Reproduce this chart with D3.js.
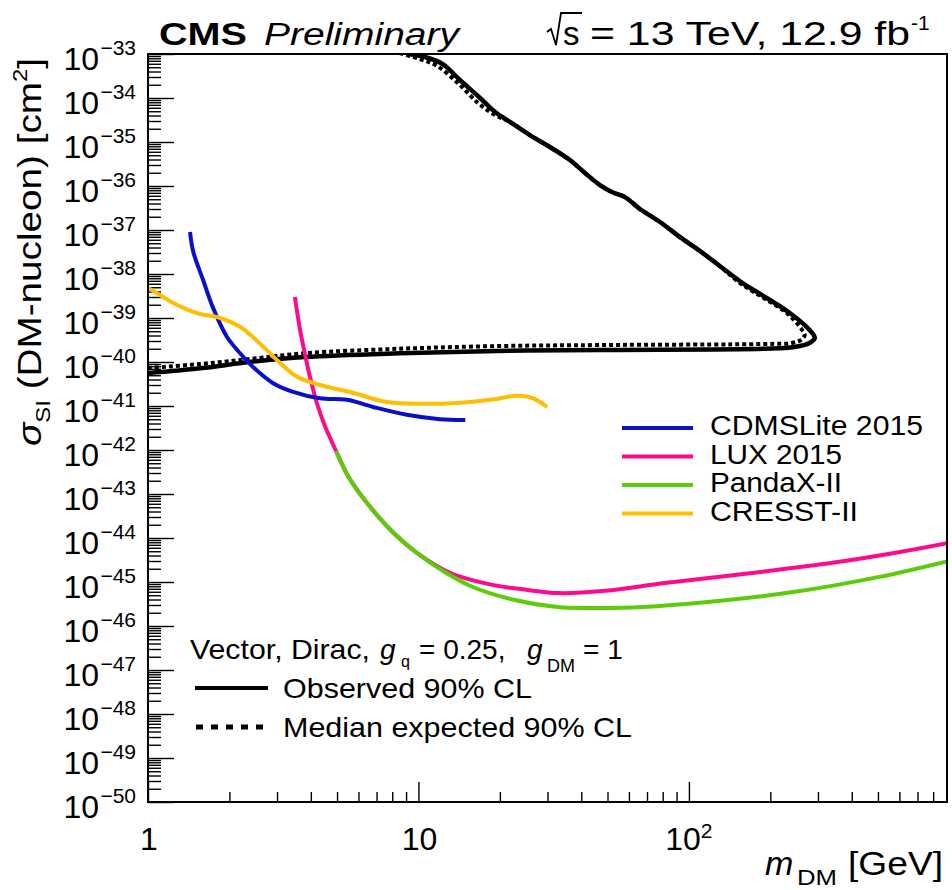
<!DOCTYPE html>
<html>
<head>
<meta charset="utf-8">
<script src="https://cdn.jsdelivr.net/npm/d3@7"></script>
<style>
  body { margin: 0; background: #fff; }
  svg { display: block; }
  text { font-family: "Liberation Sans", Arial, Helvetica, sans-serif; fill: #000; }
</style>
</head>
<body>
<svg id="chart" width="952" height="890"></svg>
<script>
// ---- CMS limit, vector mediator, Dirac DM (closed contour) ----
const observedMass = [1.0, 1.56, 2.38, 3.8, 8.5, 19.5, 46.9, 191, 246, 279, 292, 275, 236, 194, 158, 130, 110, 92.7, 78.2, 65.9, 58.0, 51.9, 46.9, 41.3, 36.3, 30.6, 25.8, 21.8, 19.2, 16.9, 14.2, 12.3, 10.6, 9.3, 8.2];
const observedSigma = [5.6e-41, 7.2e-41, 1.0e-40, 1.3e-40, 1.58e-40, 1.78e-40, 1.88e-40, 2.0e-40, 2.2e-40, 2.7e-40, 3.5e-40, 5.9e-40, 1.3e-39, 2.85e-39, 6.2e-39, 1.52e-38, 3.3e-38, 6.9e-38, 1.52e-37, 3.0e-37, 5.6e-37, 7.3e-37, 1.05e-36, 1.97e-36, 3.9e-36, 7.7e-36, 1.44e-35, 2.85e-35, 4.8e-35, 1.0e-34, 2.6e-34, 5.9e-34, 8.5e-34, 1.0e-33, 1.4e-33];

const expectedMass = [1.0, 1.56, 2.38, 3.8, 8.5, 19.5, 46.9, 191, 240, 260, 268, 262, 230, 189, 154.5, 130, 110, 92.7, 78.2, 65.9, 58.0, 51.9, 46.9, 41.3, 36.3, 30.6, 25.8, 21.8, 19.2, 16.6, 14.2, 11.7, 10.1, 8.5];
const expectedSigma = [7.3e-41, 9.0e-41, 1.17e-40, 1.58e-40, 2.0e-40, 2.3e-40, 2.43e-40, 2.57e-40, 2.7e-40, 3.2e-40, 4.1e-40, 5.4e-40, 1.3e-39, 2.85e-39, 6.2e-39, 1.52e-38, 3.3e-38, 6.9e-38, 1.52e-37, 3.0e-37, 5.6e-37, 7.3e-37, 1.05e-36, 1.97e-36, 3.9e-36, 7.7e-36, 1.44e-35, 2.85e-35, 4.1e-35, 7.7e-35, 2.0e-34, 5.4e-34, 7.7e-34, 1.05e-33];

// ---- Direct-detection limits ----
const cdmsMass = [1.43, 1.47, 1.6, 1.74, 1.96, 2.19, 2.44, 2.9, 3.44, 4.32, 5.44, 6.8, 9.06, 12.0, 14.9];
const cdmsSigma = [9.0e-38, 3.2e-38, 7.2e-39, 1.7e-39, 3.7e-40, 1.58e-40, 7.8e-41, 3.3e-41, 2.1e-41, 1.5e-41, 1.38e-41, 9.5e-42, 6.3e-42, 5.0e-42, 4.8e-42];

const luxMass = [3.49, 3.65, 3.80, 3.97, 4.21, 4.51, 4.96, 5.48, 6.34, 7.91, 9.87, 13.2, 19.0, 25.4, 32.8, 49.0, 81.5, 168, 349, 603, 900];
const luxSigma = [3.0e-39, 5.4e-40, 1.58e-40, 4.6e-41, 1.17e-41, 3.5e-42, 9.5e-43, 2.6e-43, 7.2e-44, 1.5e-44, 4.6e-45, 1.58e-45, 8.5e-46, 6.6e-46, 5.6e-46, 6.3e-46, 9.5e-46, 1.58e-45, 2.8e-45, 4.8e-45, 7.6e-45];

const pandaxMass = [4.96, 5.48, 6.34, 7.91, 9.87, 12.2, 15.8, 22.7, 32.8, 42.4, 67.6, 117, 243, 500, 900];
const pandaxSigma = [9.5e-43, 2.6e-43, 7.2e-44, 1.5e-44, 4.6e-45, 1.86e-45, 7.8e-46, 3.9e-46, 2.7e-46, 2.57e-46, 2.7e-46, 3.5e-46, 5.9e-46, 1.29e-45, 2.95e-45];

const cresstMass = [1.0, 1.11, 1.24, 1.52, 1.85, 2.19, 2.44, 2.75, 3.08, 3.56, 4.33, 5.72, 7.65, 10.4, 13.9, 18.4, 23.1, 26.5, 29.9];
const cresstSigma = [4.8e-39, 3.3e-39, 2.2e-39, 1.29e-39, 1.0e-39, 6.3e-40, 3.7e-40, 1.86e-40, 9.5e-41, 4.6e-41, 3.0e-41, 2.0e-41, 1.23e-41, 1.12e-41, 1.17e-41, 1.38e-41, 1.7e-41, 1.5e-41, 9.5e-42];

// ---- Legend entries ----
const experimentNames = ["CDMSLite 2015", "LUX 2015", "PandaX-II", "CRESST-II"];
const experimentColors = ["#0a0fc8", "#ff0a8c", "#5ccc0a", "#ffbe00"];
const experimentLabelWidths = [213, 132, 132, 148];

// ---- Axis ticks ----
const yTickExponents = [-33, -34, -35, -36, -37, -38, -39, -40, -41, -42, -43, -44, -45, -46, -47, -48, -49, -50];
const xTickValues = [1, 10, 100];
const xTickLabels = ["1", "10", "10"];
const xTickSups = ["", "", "2"];

const svg = d3.select("#chart");
const L = 148, R = 947, T = 54, B = 802;

const x = d3.scaleLog().domain([1, 900]).range([L, R]);
const y = d3.scaleLog().domain([1e-50, 1e-33]).range([B, T]);

const zip = (a, b) => a.map((v, i) => [v, b[i]]);

svg.append("defs").append("clipPath").attr("id", "plotclip")
  .append("rect").attr("x", L).attr("y", T).attr("width", R - L).attr("height", B - T);

// ---- ticks ----
const yMinor = [];
for (let e = -50; e < -33; e++) for (let k = 2; k <= 9; k++) yMinor.push(k * Math.pow(10, e));
const yMajor = yTickExponents.map(e => Math.pow(10, e));
const xMinor = [];
for (let e = 0; e < 3; e++) for (let k = 2; k <= 9; k++) { const v = k * Math.pow(10, e); if (v < 900) xMinor.push(v); }

function styleAxis(g) {
  g.select(".domain").remove();
  g.selectAll("line").attr("stroke", "#000").attr("stroke-width", 1.4);
}
svg.append("g").attr("transform", `translate(${L},0)`)
  .call(d3.axisLeft(y).tickValues(yMajor).tickSize(-26).tickFormat("")).call(styleAxis);
svg.append("g").attr("transform", `translate(${L},0)`)
  .call(d3.axisLeft(y).tickValues(yMinor).tickSize(-13).tickFormat("")).call(styleAxis);
svg.append("g").attr("transform", `translate(0,${B})`)
  .call(d3.axisBottom(x).tickValues(xTickValues).tickSize(-20).tickFormat("")).call(styleAxis);
svg.append("g").attr("transform", `translate(0,${B})`)
  .call(d3.axisBottom(x).tickValues(xMinor).tickSize(-10).tickFormat("")).call(styleAxis);

// ---- tick labels ----
const yl = svg.append("g");
yTickExponents.forEach(e => {
  const py = y(Math.pow(10, e));
  yl.append("text").attr("x", 99).attr("y", py + 16).attr("text-anchor", "end")
    .style("font-size", "32px").text("10");
  yl.append("text").attr("x", 136).attr("y", py + 1).attr("text-anchor", "end")
    .style("font-size", "21px").text("\u2212" + Math.abs(e));
});
const xl = svg.append("g");
xTickValues.forEach((v, i) => {
  const t = xl.append("text").attr("x", x(v) + (xTickSups[i] ? 0 : 1)).attr("y", 850)
    .attr("text-anchor", "middle").style("font-size", "32px");
  t.append("tspan").text(xTickLabels[i]);
  if (xTickSups[i]) t.append("tspan").attr("dy", -12).style("font-size", "21px").text(xTickSups[i]);
});

// ---- curves ----
const line = d3.line().x(d => x(d[0])).y(d => y(d[1])).curve(d3.curveCatmullRom.alpha(0.5));
const plot = svg.append("g").attr("clip-path", "url(#plotclip)");

plot.append("path").datum(zip(expectedMass, expectedSigma)).attr("d", line)
  .attr("fill", "none").attr("stroke", "#000").attr("stroke-width", 4)
  .attr("stroke-dasharray", "4,3");
plot.append("path").datum(zip(observedMass, observedSigma)).attr("d", line)
  .attr("fill", "none").attr("stroke", "#000").attr("stroke-width", 4.5)
  .attr("stroke-linejoin", "round").attr("stroke-linecap", "round");

const series = [
  [luxMass, luxSigma, experimentColors[1]],
  [pandaxMass, pandaxSigma, experimentColors[2]],
  [cdmsMass, cdmsSigma, experimentColors[0]],
  [cresstMass, cresstSigma, experimentColors[3]]
];
series.forEach(([m, s, c]) => {
  plot.append("path").datum(zip(m, s)).attr("d", line)
    .attr("fill", "none").attr("stroke", c).attr("stroke-width", 4);
});

// ---- frame ----
svg.append("rect").attr("x", L).attr("y", T).attr("width", R - L).attr("height", B - T)
  .attr("fill", "none").attr("stroke", "#000").attr("stroke-width", 2);

// ---- experiment legend ----
const lg = svg.append("g");
experimentNames.forEach((n, i) => {
  const ly = 428 + i * 28.5;
  lg.append("line").attr("x1", 622).attr("x2", 693).attr("y1", ly).attr("y2", ly)
    .attr("stroke", experimentColors[i]).attr("stroke-width", 4);
  lg.append("text").attr("x", 710).attr("y", ly + 7).style("font-size", "27px")
    .attr("textLength", experimentLabelWidths[i]).attr("lengthAdjust", "spacingAndGlyphs").text(n);
});

// ---- CMS legend ----
const cl = svg.append("g");
cl.append("text").attr("x", 190).attr("y", 659).style("font-size", "28px")
  .attr("textLength", 180).attr("lengthAdjust", "spacingAndGlyphs").text("Vector, Dirac,");
cl.append("text").attr("x", 380).attr("y", 659).style("font-size", "28px").style("font-style", "italic").text("g");
cl.append("text").attr("x", 401).attr("y", 667).style("font-size", "16px").text("q");
cl.append("text").attr("x", 419).attr("y", 659).style("font-size", "28px").text("= 0.25,");
cl.append("text").attr("x", 527).attr("y", 659).style("font-size", "28px").style("font-style", "italic").text("g");
cl.append("text").attr("x", 547).attr("y", 672).style("font-size", "18px").text("DM");
cl.append("text").attr("x", 583).attr("y", 659).style("font-size", "28px").text("= 1");

cl.append("line").attr("x1", 195).attr("x2", 268).attr("y1", 688).attr("y2", 688)
  .attr("stroke", "#000").attr("stroke-width", 4);
cl.append("text").attr("x", 283).attr("y", 698).style("font-size", "28px")
  .attr("textLength", 249).attr("lengthAdjust", "spacingAndGlyphs").text("Observed 90% CL");
cl.append("line").attr("x1", 196).attr("x2", 268).attr("y1", 727).attr("y2", 727)
  .attr("stroke", "#000").attr("stroke-width", 5).attr("stroke-dasharray", "7,8");
cl.append("text").attr("x", 283).attr("y", 737).style("font-size", "28px")
  .attr("textLength", 349).attr("lengthAdjust", "spacingAndGlyphs").text("Median expected 90% CL");

// ---- header ----
svg.append("text").attr("x", 159).attr("y", 45).style("font-size", "31px").style("font-weight", "bold")
  .attr("textLength", 88).attr("lengthAdjust", "spacingAndGlyphs").text("CMS");
svg.append("text").attr("x", 264).attr("y", 45).style("font-size", "31px").style("font-style", "italic")
  .attr("textLength", 195).attr("lengthAdjust", "spacingAndGlyphs").text("Preliminary");
// radical sign with overbar
svg.append("path").attr("d", "M547,32 L551,29 L556,45 L561,13 L582,13")
  .attr("fill", "none").attr("stroke", "#000").attr("stroke-width", 1.8).attr("stroke-linejoin", "miter");
svg.append("text").attr("x", 563).attr("y", 45).style("font-size", "33px").text("s");
svg.append("text").attr("x", 590).attr("y", 45).style("font-size", "33px")
  .attr("textLength", 320).attr("lengthAdjust", "spacingAndGlyphs").text("= 13 TeV, 12.9 fb");
svg.append("text").attr("x", 911).attr("y", 30).style("font-size", "21px").text("-1");

// ---- axis titles ----
svg.append("text").attr("x", 765).attr("y", 875).style("font-size", "34px").style("font-style", "italic").text("m");
svg.append("text").attr("x", 797).attr("y", 885).style("font-size", "22px")
  .attr("textLength", 40).attr("lengthAdjust", "spacingAndGlyphs").text("DM");
svg.append("text").attr("x", 848).attr("y", 875).style("font-size", "34px")
  .attr("textLength", 95).attr("lengthAdjust", "spacingAndGlyphs").text("[GeV]");

const yt = svg.append("text").attr("transform", "translate(41,0) rotate(-90)")
  .attr("x", -58).attr("y", 0).attr("text-anchor", "end").style("font-size", "34px")
  .attr("textLength", 388).attr("lengthAdjust", "spacingAndGlyphs");
yt.append("tspan").style("font-style", "italic").text("\u03C3");
yt.append("tspan").attr("dy", 9).style("font-size", "21px").text("SI");
yt.append("tspan").attr("dy", -9).text(" (DM-nucleon) [cm");
yt.append("tspan").attr("dy", -14).style("font-size", "21px").text("2");
yt.append("tspan").attr("dy", 14).text("]");
</script>
</body>
</html>
